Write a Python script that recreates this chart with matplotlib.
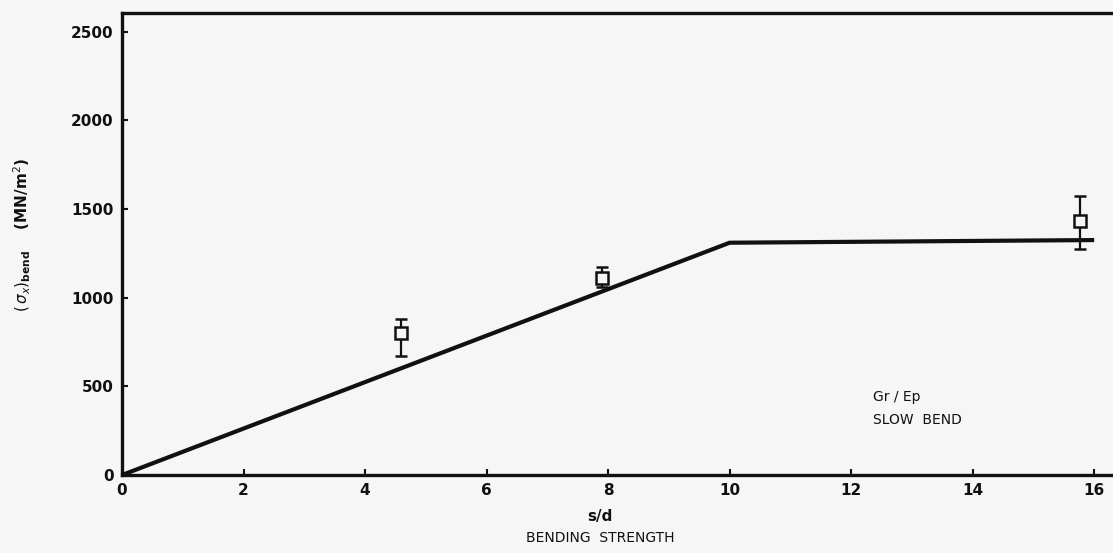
import matplotlib
matplotlib.use("Agg")
import matplotlib.pyplot as plt

# theory line (s/d vs bending strength)
line_x = [0, 10, 16]
line_y = [0, 1310, 1325]

# measured points, with error bar ends
pt_x = [4.59, 7.9, 15.77]
pt_y = [801, 1112, 1433]
pt_lo = [672, 1061, 1275]
pt_hi = [880, 1174, 1574]

xticks = [0, 2, 4, 6, 8, 10, 12, 14, 16]
yticks = [0, 500, 1000, 1500, 2000, 2500]

bg = "#f6f6f6"
ink = "#111111"

fig = plt.figure(figsize=(11.13, 5.53), dpi=100, facecolor=bg)
ax = fig.add_axes([0.1096, 0.141, 0.8904, 0.836], facecolor=bg)

ax.plot(line_x, line_y, color=ink, lw=3.0, solid_capstyle="butt")

err = [[y - lo for y, lo in zip(pt_y, pt_lo)], [hi - y for y, hi in zip(pt_y, pt_hi)]]
ax.errorbar(pt_x, pt_y, yerr=err, fmt="s", mfc=bg, mec=ink, mew=1.8,
            ms=9, ecolor=ink, elinewidth=1.6, capsize=4, capthick=1.8, zorder=3)

ax.set_xlim(0, 16.31)
ax.set_ylim(0, 2607)
ax.set_xticks(xticks)
ax.set_yticks(yticks)
ax.tick_params(direction="in", length=4, width=1.5, colors=ink,
               labelsize=11, pad=6)
for lab in ax.get_xticklabels() + ax.get_yticklabels():
    lab.set_fontweight("bold")

for side in ("left", "bottom", "top"):
    ax.spines[side].set_linewidth(2.4)
    ax.spines[side].set_color(ink)
ax.spines["right"].set_visible(False)

fig.text(0.539, 0.066, "s/d", ha="center", va="center", fontsize=11,
         fontweight="bold", color=ink)
fig.text(0.539, 0.028, "BENDING  STRENGTH", ha="center", va="center",
         fontsize=10, color=ink)
fig.text(0.02, 0.575, r"$(\,\sigma_x)_{\mathbf{bend}}$    (MN/m$^2$)", rotation=90,
         ha="center", va="center", fontsize=11, fontweight="bold", color=ink)

ax.text(0.784, 0.282, "Gr / Ep", transform=fig.transFigure, fontsize=10,
        color=ink, ha="left", va="center")
ax.text(0.784, 0.240, "SLOW  BEND", transform=fig.transFigure, fontsize=10,
        color=ink, ha="left", va="center")

fig.savefig("out.png", dpi=100, facecolor=bg)
